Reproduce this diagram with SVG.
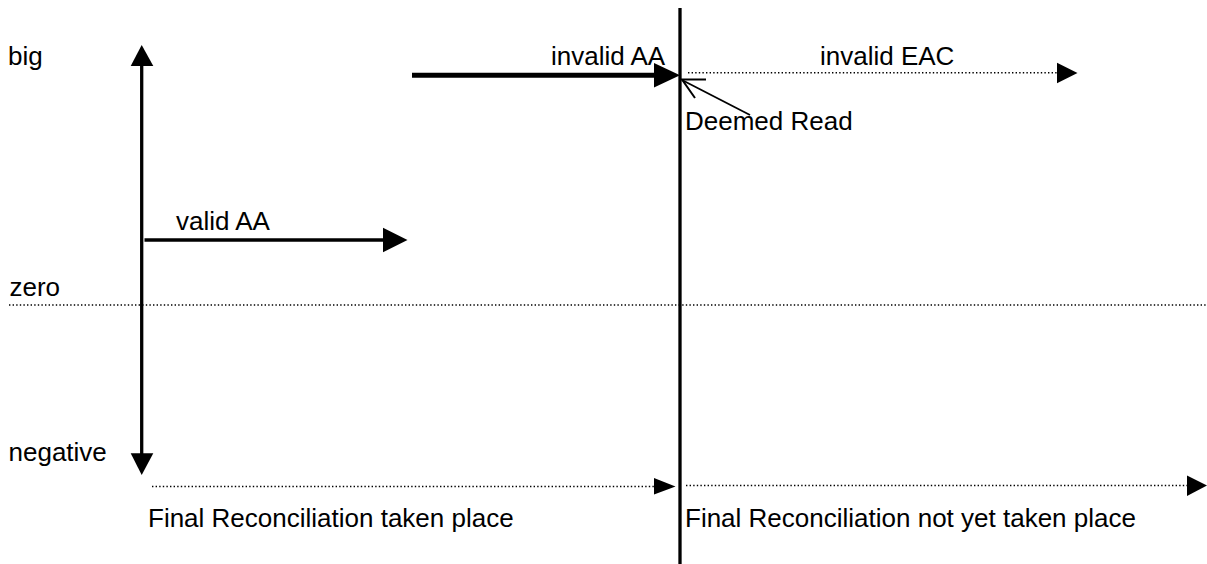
<svg xmlns="http://www.w3.org/2000/svg" width="1207" height="564" viewBox="0 0 1207 564">
<style>
text{font-family:"Liberation Sans",Arial,sans-serif;font-size:26px;fill:#000}
.solid{stroke:#000;fill:none}
.dot{stroke:#000;stroke-width:1.4;stroke-dasharray:1.4 2.2;fill:none}
.head{fill:#000;stroke:none}
</style>
<rect width="1207" height="564" fill="#fff"/>
<g id="labels">
<text id="big" x="8" y="65">big</text>
<text id="zero" x="9.5" y="296">zero</text>
<text id="negative" x="8.5" y="461">negative</text>
<text id="validAA" x="176" y="230">valid AA</text>
<text id="invalidAA" x="551" y="65">invalid AA</text>
<text id="invalidEAC" x="820" y="65">invalid EAC</text>
<text id="deemedRead" x="685" y="130">Deemed Read</text>
<text id="finalTaken" x="148" y="527">Final Reconciliation taken place</text>
<text id="finalNotYet" x="685" y="527">Final Reconciliation not yet taken place</text>
</g>
<g id="connectors">
<!-- vertical axis -->
<line class="solid" x1="141.7" y1="64" x2="141.7" y2="455" stroke-width="3.3"/>
<polygon class="head" points="130.7,66 141.7,45 153.3,66"/>
<polygon class="head" points="130.7,453.3 141.7,475 153.3,453.3"/>
<!-- divider -->
<line class="solid" x1="680" y1="8" x2="680" y2="564" stroke-width="3.3"/>
<!-- valid AA -->
<line class="solid" x1="144.5" y1="240" x2="385" y2="240" stroke-width="3.6"/>
<polygon class="head" points="383,227.7 407.5,240 383,252.3"/>
<!-- invalid AA -->
<line class="solid" x1="412" y1="75.3" x2="657" y2="75.3" stroke-width="5"/>
<polygon class="head" points="654,63 680,75.3 654,87.5"/>
<!-- invalid EAC dotted -->
<line class="dot" x1="688" y1="72.7" x2="1058" y2="72.7"/>
<polygon class="head" points="1057,62.7 1077.5,73 1057,83.3"/>
<!-- deemed read pointer -->
<line class="solid" x1="750" y1="115" x2="682" y2="80" stroke-width="1.8"/>
<polyline class="solid" points="706,79.5 682,79.5 695,98" stroke-width="2"/>
<!-- zero line -->
<line class="dot" x1="9" y1="305" x2="1207" y2="305"/>
<!-- bottom dotted arrows -->
<line class="dot" x1="152" y1="486.5" x2="655" y2="486.5"/>
<polygon class="head" points="654,478 675.5,486.5 654,494.5"/>
<line class="dot" x1="686" y1="485.5" x2="1188" y2="485.5"/>
<polygon class="head" points="1187,475.5 1207,485.5 1187,496"/>
</g>
</svg>
